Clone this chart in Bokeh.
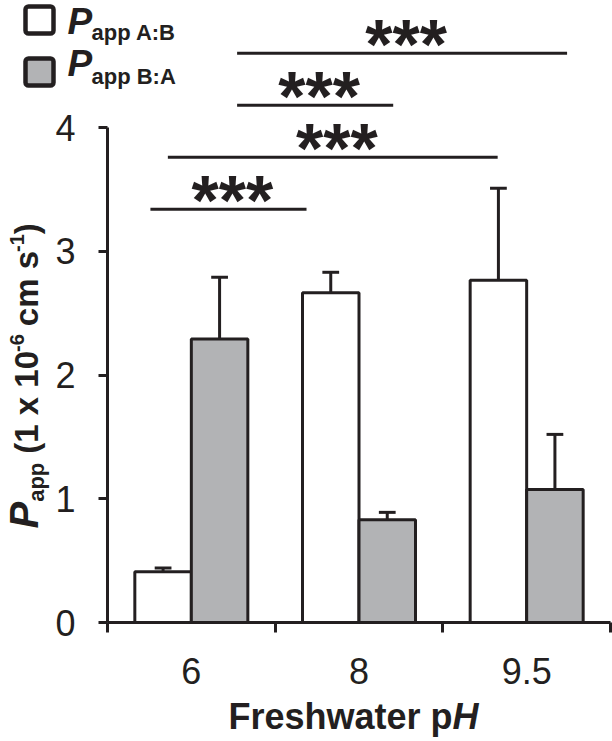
import numpy as np
from bokeh.plotting import figure
from bokeh.models import FixedTicker, Label, BoxAnnotation, Range1d, LinearAxis
from bokeh.core.properties import value
from bokeh.embed import file_html
from bokeh.resources import INLINE

# ---- data ----
categories = ["6", "8", "9.5"]
ab_mean = [0.41, 2.665, 2.765]     # Papp A:B (white)
ab_err = [0.03, 0.165, 0.745]
ba_mean = [2.29, 0.83, 1.075]      # Papp B:A (grey)
ba_err = [0.50, 0.06, 0.445]
y_ticks = [0, 1, 2, 3, 4]

# significance brackets (x in category units, y in data units)
sig_x0 = [0.773, 0.773, 0.36, 0.256]
sig_x1 = [2.741, 1.704, 2.327, 1.187]
sig_y = [4.60, 4.18, 3.76, 3.34]
sig_text = ["***", "***", "***", "***"]

INK = "#231f20"
GREY = "#b2b3b5"
FONT = "Liberation Sans"

W_PX, H_PX = 612, 741
AX_X, AX_Y = 107, 622          # canvas position of the axes origin
PXX, PXY = 503 / 3, 123.75     # pixels per data unit
BL = 0.31                      # baseline correction (fraction of font size)

BW = 0.337
CAP = 0.05

idx = np.arange(len(categories))
x_ab = idx + 0.5 - BW / 2
x_ba = idx + 0.5 + BW / 2
ab_mean = np.array(ab_mean); ab_err = np.array(ab_err)
ba_mean = np.array(ba_mean); ba_err = np.array(ba_err)

p = figure(width=W_PX, height=H_PX,
           x_range=Range1d(-AX_X / PXX, (W_PX - AX_X) / PXX),
           y_range=Range1d(-(H_PX - AX_Y) / PXY, AX_Y / PXY),
           output_backend="svg", toolbar_location=None,
           x_axis_type=None, y_axis_type=None,
           min_border_left=0, min_border_right=0, min_border_top=0, min_border_bottom=0)
p.outline_line_color = None
p.background_fill_color = "white"
p.border_fill_color = "white"

def SY(cy):
    return H_PX - cy

# axes
yaxis = LinearAxis(ticker=FixedTicker(ticks=y_ticks), bounds=(0, 4), fixed_location=0)
yaxis.axis_line_width = 3
yaxis.axis_line_color = INK
yaxis.major_tick_line_width = 3
yaxis.major_tick_line_color = INK
yaxis.major_tick_out = 9
yaxis.major_tick_in = 0
yaxis.minor_tick_line_color = None
yaxis.major_label_standoff = 23
yaxis.major_label_text_font = FONT
yaxis.major_label_text_font_size = "36px"
yaxis.major_label_text_color = INK
p.add_layout(yaxis, "left")

xaxis = LinearAxis(ticker=FixedTicker(ticks=[0.5, 1.5, 2.5], minor_ticks=[0, 1, 2, 3]),
                   major_label_overrides={0.5: categories[0], 1.5: categories[1], 2.5: categories[2]},
                   bounds=(0, 3), fixed_location=0)
xaxis.axis_line_width = 3
xaxis.axis_line_color = INK
xaxis.major_tick_line_color = None
xaxis.major_tick_out = 0
xaxis.major_tick_in = 0
xaxis.minor_tick_line_width = 3
xaxis.minor_tick_line_color = INK
xaxis.minor_tick_out = 10
xaxis.minor_tick_in = 0
xaxis.major_label_standoff = 25
xaxis.major_label_text_font = FONT
xaxis.major_label_text_font_size = "36px"
xaxis.major_label_text_color = INK
p.add_layout(xaxis, "below")

# error bars
for xs, m, e in ((x_ab, ab_mean, ab_err), (x_ba, ba_mean, ba_err)):
    p.segment(x0=xs, y0=m, x1=xs, y1=m + e, line_width=3, line_color=INK)
    p.segment(x0=xs - CAP, y0=m + e, x1=xs + CAP, y1=m + e, line_width=3, line_color=INK)

# bars
p.vbar(x=x_ab, width=BW, top=ab_mean, bottom=0, fill_color="white", line_color=INK, line_width=3)
p.vbar(x=x_ba, width=BW, top=ba_mean, bottom=0, fill_color=GREY, line_color=INK, line_width=3)

# significance
sig_x0 = np.array(sig_x0); sig_x1 = np.array(sig_x1)
p.segment(x0=sig_x0, y0=sig_y, x1=sig_x1, y1=sig_y, line_width=3, line_color=INK)
p.text(x=(sig_x0 + sig_x1) / 2, y=sig_y, text=sig_text, text_align="center",
       text_baseline="alphabetic", y_offset=-8, x_offset=4,
       text_font=value(FONT), text_font_style="bold", text_font_size="70px", text_color=INK)

def label(x, cy, text, size, style="bold"):
    p.add_layout(Label(x=x, y=SY(cy) + BL * size, x_units="screen", y_units="screen", text=text,
                       text_font=FONT, text_font_style=style, text_font_size=f"{size}px",
                       text_color=INK, text_baseline="alphabetic"))

# legend
for top, fill in ((6, "white"), (58, GREY)):
    p.add_layout(BoxAnnotation(left=25, right=53, top=SY(top), bottom=SY(top + 27),
                               left_units="screen", right_units="screen",
                               top_units="screen", bottom_units="screen",
                               fill_color=fill, fill_alpha=1, line_color=INK, line_alpha=1,
                               line_width=4.5, border_radius=3))
for cy_p, cy_s, sub in ((32, 39, "app A:B"), (74, 83, "app B:A")):
    label(67, cy_p, "P", 37, "bold italic")
    label(91, cy_s, sub, 22)

# x-axis title
W = {'F': .611, 'r': .389, 'e': .556, 's': .556, 'h': .611, 'w': .778, 'a': .556, 't': .333,
     ' ': .278, 'p': .611, 'P': .667, '(': .333, ')': .333, '1': .556, '0': .556, '6': .556,
     'x': .556, 'c': .556, 'm': .889, '-': .333, 'H': .722}

def tw(t, size):
    return sum(W[c] for c in t) * size

xl = "Freshwater p"
label(228, 727, xl, 36)
label(228 + tw(xl, 36), 727, "H", 36, "bold italic")

# y-axis title (rotated, reads bottom to top)
base = 36
pieces = [("P", 40, "bold italic", 0, 0), ("app", 22, "bold", 7, 0), ("(1 x 10", 33, "bold", 0, 9),
          ("-6", 20, "bold", -13, -1), ("cm s", 33, "bold", 0, 8), ("-1", 20, "bold", -13, -1),
          (")", 33, "bold", 0, 0)]
pos = SY(528)
for t, size, style, shift, gap in pieces:
    pos += gap
    p.add_layout(Label(x=base + shift - BL * size, y=pos, x_units="screen", y_units="screen", text=t,
                       angle=90, angle_units="deg",
                       text_font=FONT, text_font_style=style, text_font_size=f"{size}px",
                       text_color=INK, text_baseline="alphabetic", text_align="left"))
    pos += tw(t, size)

open("out.html", "w").write(file_html(p, INLINE))
